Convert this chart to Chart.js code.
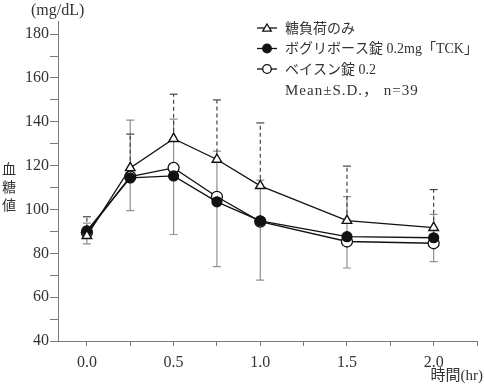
<!DOCTYPE html>
<html>
<head>
<meta charset="utf-8">
<script src="https://cdn.jsdelivr.net/npm/chart.js@4.4.1/dist/chart.umd.min.js"></script>
<style>
html,body{margin:0;padding:0;background:#fff;}
#wrap{position:relative;width:484px;height:384px;}
</style>
</head>
<body>
<div id="wrap"><canvas id="c" width="484" height="384"></canvas></div>
<script>
// ---- data ----
const times = [0, 0.25, 0.5, 0.75, 1.0, 1.5, 2.0];
const seriesNames = ["糖負荷のみ", "ボグリボース錠 0.2mg「TCK」", "ベイスン錠 0.2"];
const sugarOnly = [88.0, 119.0, 132.3, 122.8, 110.8, 94.9, 91.7];
const voglibose = [90.3, 114.4, 115.3, 103.5, 94.8, 87.6, 87.1];
const basen = [89.5, 115.0, 119.0, 105.8, 94.5, 85.4, 84.6];
// error bar ends (mean ± S.D.)
const sugarOnlyUpper = [96.7, 134.4, 152.6, 150.0, 139.5, 119.8, 109.1];
const vogliboseUpper = [93.8, 140.8, 141.2, 126.6, 113.4, 105.9, 97.8];
const basenLower = [84.3, 99.5, 88.6, 73.9, 67.8, 73.3, 76.2];
const xTicks = [0, 0.25, 0.5, 0.75, 1.0, 1.25, 1.5, 1.75, 2.0, 2.25];
const xLabels = [0, 0.5, 1.0, 1.5, 2.0];
const yTicks = [40, 50, 60, 70, 80, 90, 100, 110, 120, 130, 140, 150, 160, 170, 180];
const yLabels = [40, 60, 80, 100, 120, 140, 160, 180];
const noteText = "Mean±S.D.， n=39";
const yTitle = "(mg/dL)";
const yTitle2 = ["血", "糖", "値"];
const xTitle = "時間(hr)";

const SERIF = "'Liberation Serif','DejaVu Serif','Noto Sans CJK JP',serif";
const AXIS = '#7a7a7a';

function pts(arr){ return times.map((t,i)=>({x:t,y:arr[i]})); }

const errPlugin = {
  id:'errbars',
  beforeDatasetsDraw(chart){
    const {ctx, scales:{x,y}} = chart;
    ctx.save();
    const cap = 4;
    // grey solid bars
    ctx.strokeStyle = '#909090'; ctx.lineWidth = 1.2; ctx.setLineDash([]);
    times.forEach((t,i)=>{
      const px = x.getPixelForValue(t);
      const yU = y.getPixelForValue(vogliboseUpper[i]);
      const yM = y.getPixelForValue(voglibose[i]);
      const yL = y.getPixelForValue(basenLower[i]);
      const yM2 = y.getPixelForValue(basen[i]);
      ctx.beginPath();
      ctx.moveTo(px, yM); ctx.lineTo(px, yU);
      ctx.moveTo(px-cap, yU); ctx.lineTo(px+cap, yU);
      ctx.moveTo(px, yM2); ctx.lineTo(px, yL);
      ctx.moveTo(px-cap, yL); ctx.lineTo(px+cap, yL);
      ctx.stroke();
    });
    // dashed bars for sugar only
    ctx.strokeStyle = '#444'; ctx.lineWidth = 1.2;
    times.forEach((t,i)=>{
      const px = x.getPixelForValue(t);
      const yU = y.getPixelForValue(sugarOnlyUpper[i]);
      const yM = y.getPixelForValue(sugarOnly[i]);
      ctx.setLineDash([4,3]);
      ctx.beginPath(); ctx.moveTo(px, yM); ctx.lineTo(px, yU); ctx.stroke();
      ctx.setLineDash([]);
      ctx.beginPath(); ctx.moveTo(px-cap, yU); ctx.lineTo(px+cap, yU); ctx.stroke();
    });
    ctx.restore();
  },
  afterDraw(chart){
    const {ctx} = chart;
    ctx.save();
    ctx.fillStyle = '#333';
    ctx.textBaseline = 'middle';
    // y title
    ctx.font = "16px " + SERIF;
    ctx.textAlign = 'left';
    ctx.fillText(yTitle, 31, 11);
    ctx.font = "14px " + SERIF;
    ctx.textAlign = 'center';
    yTitle2.forEach((ch,i)=>ctx.fillText(ch, 9, 170 + i*18));
    // x title
    ctx.font = "15px " + SERIF;
    ctx.textAlign = 'right';
    ctx.fillText(xTitle, 483, 376);
    // legend
    const rows = [28, 48.5, 69];
    const styles = ['tri','fill','open'];
    ctx.textAlign = 'left';
    rows.forEach((ry,i)=>{
      ctx.strokeStyle = '#111'; ctx.lineWidth = 1.3;
      ctx.beginPath(); ctx.moveTo(257, ry); ctx.lineTo(277, ry); ctx.stroke();
      const cx = 267;
      ctx.beginPath();
      if (styles[i]==='tri'){
        ctx.moveTo(cx, ry-4); ctx.lineTo(cx+4.3, ry+3.2); ctx.lineTo(cx-4.3, ry+3.2); ctx.closePath();
        ctx.fillStyle = '#fff'; ctx.fill(); ctx.stroke();
      } else {
        ctx.arc(cx, ry, 4.3, 0, Math.PI*2);
        ctx.fillStyle = styles[i]==='fill' ? '#111' : '#fff'; ctx.fill(); ctx.stroke();
      }
      ctx.fillStyle = '#333';
      ctx.font = "14px " + SERIF;
      ctx.fillText(seriesNames[i], 285, ry+1);
    });
    ctx.font = "15px " + SERIF;
    try { ctx.letterSpacing = '1px'; } catch(e) {}
    ctx.fillText(noteText, 285, 91);
    ctx.restore();
  }
};

new Chart(document.getElementById('c'), {
  type:'line',
  data:{
    datasets:[
      {label:seriesNames[0], data:pts(sugarOnly), borderColor:'#111', borderWidth:1.3,
       pointStyle:'triangle', pointRadius:5.5, pointBackgroundColor:'#fff', pointBorderColor:'#111', pointBorderWidth:1.4},
      {label:seriesNames[1], data:pts(voglibose), borderColor:'#111', borderWidth:1.3,
       pointStyle:'circle', pointRadius:5, pointBackgroundColor:'#111', pointBorderColor:'#111', pointBorderWidth:1.2},
      {label:seriesNames[2], data:pts(basen), borderColor:'#111', borderWidth:1.3,
       pointStyle:'circle', pointRadius:5.5, pointBackgroundColor:'#fff', pointBorderColor:'#111', pointBorderWidth:1.3}
    ]
  },
  options:{
    responsive:false, animation:false,
    layout:{padding:{left:0, right:3, top:21, bottom:0}},
    plugins:{legend:{display:false}, tooltip:{enabled:false}},
    scales:{
      x:{
        type:'linear', min:-0.1667, max:2.25,
        afterBuildTicks(s){ s.ticks = xTicks.map(v=>({value:v})); },
        afterFit(s){ s.height = 43; },
        grid:{display:true, drawOnChartArea:false, drawTicks:true, tickLength:5, color:AXIS},
        border:{display:true, color:AXIS, width:1},
        ticks:{padding:7, autoSkip:false, maxRotation:0, color:'#333',
          font:{family:SERIF, size:16},
          callback:(v)=> xLabels.some(l=>Math.abs(l-v)<1e-6) ? Number(v).toFixed(1) : ''}
      },
      y:{
        type:'linear', min:40, max:186,
        afterBuildTicks(s){ s.ticks = yTicks.map(v=>({value:v})); },
        afterFit(s){ s.width = 58; },
        grid:{display:true, drawOnChartArea:false, drawTicks:true, tickLength:8, color:AXIS},
        border:{display:true, color:AXIS, width:1},
        ticks:{padding:1, autoSkip:false, color:'#333',
          font:{family:SERIF, size:16},
          callback:(v)=> yLabels.includes(v) ? String(v) : ''}
      }
    }
  },
  plugins:[errPlugin]
});
</script>
</body>
</html>
